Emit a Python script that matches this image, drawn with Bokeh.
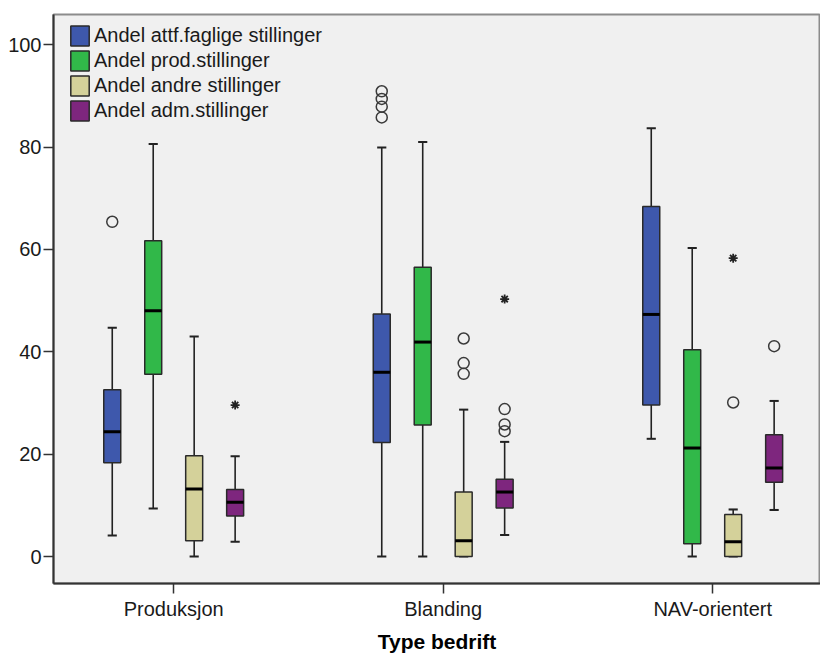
from bokeh.plotting import figure
from bokeh.models import Range1d, FixedTicker, Legend, LegendItem, ColumnDataSource
from bokeh.embed import file_html
from bokeh.resources import INLINE

categories = ["Produksjon", "Blanding", "NAV-orientert"]
series = ["Andel attf.faglige stillinger", "Andel prod.stillinger",
          "Andel andre stillinger", "Andel adm.stillinger"]
colors = ["#3E58AC", "#31B849", "#D4D19A", "#7E267E"]

# five-number summaries per series, one value per category
attf_lower = [4.1, 0.0, 23.0]
attf_q1 = [18.3, 22.3, 29.6]
attf_median = [24.4, 36.0, 47.3]
attf_q3 = [32.6, 47.4, 68.4]
attf_upper = [44.7, 79.9, 83.7]

prod_lower = [9.4, 0.0, 0.0]
prod_q1 = [35.6, 25.7, 2.5]
prod_median = [48.0, 41.9, 21.2]
prod_q3 = [61.7, 56.5, 40.4]
prod_upper = [80.6, 81.0, 60.3]

andre_lower = [0.0, 0.0, 0.0]
andre_q1 = [3.1, 0.0, 0.0]
andre_median = [13.2, 3.1, 2.9]
andre_q3 = [19.7, 12.6, 8.2]
andre_upper = [43.0, 28.7, 9.2]

adm_lower = [2.9, 4.2, 9.1]
adm_q1 = [7.9, 9.5, 14.5]
adm_median = [10.6, 12.6, 17.3]
adm_q3 = [13.1, 15.1, 23.8]
adm_upper = [19.6, 22.4, 30.4]

# outliers (circles) and extremes (stars), per category
attf_outliers = [[65.4], [90.9, 89.4, 87.9, 85.8], []]
prod_outliers = [[], [], []]
andre_outliers = [[], [42.6, 37.8, 35.7], [30.1]]
adm_outliers = [[], [28.8, 25.8, 24.5], [41.1]]

attf_extremes = [[], [], []]
prod_extremes = [[], [], []]
andre_extremes = [[], [], [58.3]]
adm_extremes = [[29.6], [50.3], []]

stats = [
    (attf_lower, attf_q1, attf_median, attf_q3, attf_upper, attf_outliers, attf_extremes),
    (prod_lower, prod_q1, prod_median, prod_q3, prod_upper, prod_outliers, prod_extremes),
    (andre_lower, andre_q1, andre_median, andre_q3, andre_upper, andre_outliers, andre_extremes),
    (adm_lower, adm_q1, adm_median, adm_q3, adm_upper, adm_outliers, adm_extremes),
]

offsets = [-0.228, -0.076, 0.076, 0.228]
box_w = 0.063
cap_w = 0.034

p = figure(width=820, height=655, output_backend="svg", toolbar_location=None,
           x_range=Range1d(0.554, 3.40), y_range=Range1d(-5.27, 105.9),
           min_border_left=53, min_border_right=0, min_border_top=14,
           min_border_bottom=72)
p.background_fill_color = "#F0F0F0"
p.border_fill_color = "white"
p.outline_line_color = "#8C8C8C"
p.outline_line_width = 2
p.grid.visible = False

legend_items = []
for s, (lo, q1, med, q3, up, outl, extr) in enumerate(stats):
    xs = [i + 1 + offsets[s] for i in range(len(categories))]
    src = ColumnDataSource(dict(x=xs, lo=lo, q1=q1, med=med, q3=q3, up=up,
                                xl=[x - box_w / 2 for x in xs], xr=[x + box_w / 2 for x in xs],
                                cl=[x - cap_w / 2 for x in xs], cr=[x + cap_w / 2 for x in xs]))
    p.segment(x0="x", y0="q3", x1="x", y1="up", source=src, line_color="#222222", line_width=1.6)
    p.segment(x0="x", y0="lo", x1="x", y1="q1", source=src, line_color="#222222", line_width=1.6)
    p.segment(x0="cl", y0="up", x1="cr", y1="up", source=src, line_color="#222222", line_width=2)
    p.segment(x0="cl", y0="lo", x1="cr", y1="lo", source=src, line_color="#222222", line_width=2)
    r = p.vbar(x="x", top="q3", bottom="q1", width=box_w, source=src,
               fill_color=colors[s], line_color="#2A2A2A", line_width=1.5)
    p.segment(x0="xl", y0="med", x1="xr", y1="med", source=src, line_color="black", line_width=3)
    legend_items.append(LegendItem(label=series[s], renderers=[r]))

    ox, oy = [], []
    for i, vals in enumerate(outl):
        for v in vals:
            ox.append(xs[i]); oy.append(v)
    if ox:
        p.scatter(ox, oy, marker="circle", size=11, fill_color=None,
                  line_color="#3A3A3A", line_width=1.5)
    ex, ey = [], []
    for i, vals in enumerate(extr):
        for v in vals:
            ex.append(xs[i]); ey.append(v)
    if ex:
        p.scatter(ex, ey, marker="asterisk", size=9, line_color="#222222", line_width=1.8)

legend = Legend(items=legend_items, location=(15, 460), padding=0, margin=0,
                glyph_width=23, glyph_height=25, label_height=25, spacing=0,
                label_standoff=3, label_text_font="Liberation Sans",
                label_text_font_size="20px", label_text_color="#1A1A1A",
                border_line_color=None, background_fill_alpha=0)
p.add_layout(legend, "center")

p.xaxis.ticker = FixedTicker(ticks=[1, 2, 3])
p.xaxis.major_label_overrides = {1: categories[0], 2: categories[1], 3: categories[2]}
p.yaxis.ticker = FixedTicker(ticks=[0, 20, 40, 60, 80, 100])
for ax in (p.xaxis, p.yaxis):
    ax.axis_line_color = "#333333"
    ax.axis_line_width = 2
    ax.major_tick_line_color = "#333333"
    ax.major_tick_line_width = 1.5
    ax.major_tick_out = 10
    ax.major_tick_in = 0
    ax.minor_tick_line_color = None
    ax.major_label_text_font = "Liberation Sans"
    ax.major_label_text_font_size = "20px"
    ax.major_label_text_color = "#1A1A1A"
p.yaxis.major_label_standoff = 2
p.xaxis.major_label_standoff = 4
p.xaxis.axis_label = "Type bedrift"
p.xaxis.axis_label_text_font = "Liberation Sans"
p.xaxis.axis_label_text_font_style = "bold"
p.xaxis.axis_label_text_font_size = "21px"
p.xaxis.axis_label_text_color = "black"
p.xaxis.axis_label_standoff = 7

open("out.html", "w").write(file_html(p, INLINE))
